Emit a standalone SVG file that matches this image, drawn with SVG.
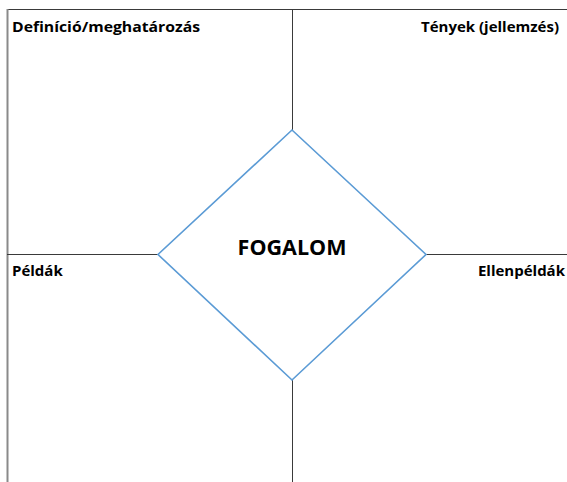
<svg xmlns="http://www.w3.org/2000/svg" width="567" height="482" viewBox="0 0 567 482">
<style>
.ln{stroke:#3a3a3a;stroke-width:1;fill:none}
.lb{font-family:"Open Sans","Liberation Sans",sans-serif;font-weight:bold;font-size:15px;fill:#000}
</style>
<rect width="567" height="482" fill="#fff"/>
<g id="connectors">
<line class="ln" x1="7" y1="9.5" x2="567" y2="9.5"/>
<line x1="7.5" y1="9" x2="7.5" y2="482" stroke="#8a8a8a" stroke-width="2"/>
<line class="ln" x1="292.5" y1="9" x2="292.5" y2="130"/>
<line class="ln" x1="292.5" y1="380" x2="292.5" y2="482"/>
<line class="ln" x1="7" y1="254.5" x2="158" y2="254.5"/>
<line class="ln" x1="426" y1="254.5" x2="567" y2="254.5"/>
</g>
<g id="definicio"><text class="lb" x="12" y="31.5" textLength="188" lengthAdjust="spacingAndGlyphs">Definíció/meghatározás</text></g>
<g id="tenyek"><text class="lb" x="559" y="31.5" text-anchor="end">Tények (jellemzés)</text></g>
<g id="peldak"><text class="lb" x="12" y="275.5">Példák</text></g>
<g id="ellenpeldak"><text class="lb" x="565" y="275.5" text-anchor="end">Ellenpéldák</text></g>
<g id="fogalom">
<polygon points="292,130 426,254.5 292,380 158,254.5" fill="#fff" stroke="#5b9bd5" stroke-width="1.6"/>
<text x="292" y="254.5" text-anchor="middle" font-family="'Open Sans','Liberation Sans',sans-serif" font-weight="bold" font-size="21.5px" fill="#000">FOGALOM</text>
</g>
</svg>
